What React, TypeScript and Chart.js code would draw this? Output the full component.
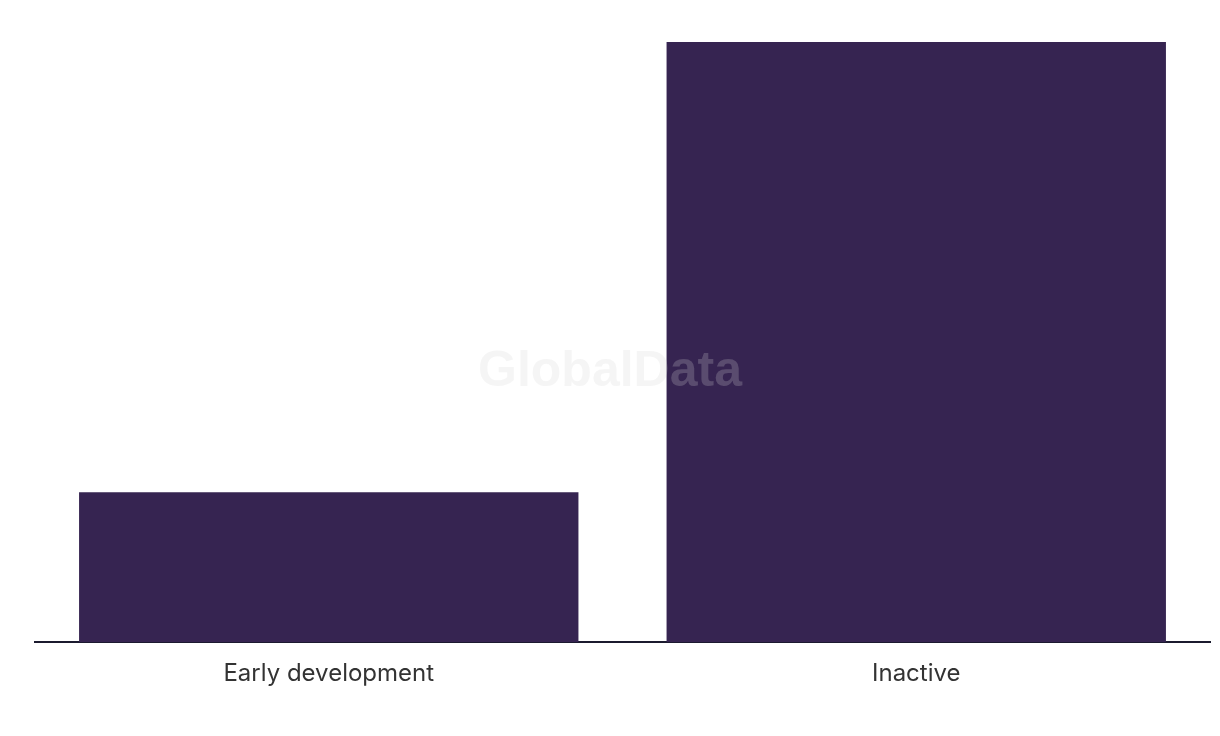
import React, { useEffect, useRef } from "react";
import { Chart, registerables } from "chart.js";

Chart.register(...registerables);

const categories = ["Early development", "Inactive"];
const values = [1, 4];

const watermarkPlugin = {
  id: "watermark",
  afterDatasetsDraw(chart: any) {
    const ctx = chart.ctx;
    ctx.save();
    ctx.font = "bold 50px 'Liberation Sans', Arial, sans-serif";
    ctx.fillStyle = "rgba(212,212,212,0.23)";
    ctx.textAlign = "center";
    ctx.textBaseline = "middle";
    ctx.fillText("GlobalData", 610, 372);
    ctx.restore();
  },
};

export default function App() {
  const ref = useRef<HTMLCanvasElement>(null);
  useEffect(() => {
    if (!ref.current) return;
    const chart = new Chart(ref.current, {
      type: "bar",
      data: {
        labels: categories,
        datasets: [
          {
            data: values,
            backgroundColor: "#362451",
            barPercentage: 0.85,
            categoryPercentage: 1,
          },
        ],
      },
      options: {
        responsive: false,
        animation: false,
        layout: { padding: { left: 35, right: 10, top: 42, bottom: 31 } },
        plugins: { legend: { display: false }, tooltip: { enabled: false } },
        scales: {
          x: {
            grid: { display: false, drawTicks: false },
            border: { display: true, color: "#1b1a2e", width: 2 },
            ticks: {
              padding: 17,
              color: "#333333",
              font: { family: "Inter, 'Noto Sans', sans-serif", size: 24 },
            },
          },
          y: {
            display: false,
            min: 0,
            max: 4,
          },
        },
      },
      plugins: [watermarkPlugin],
    });
    return () => chart.destroy();
  }, []);
  return (
    <div style={{ position: "fixed", left: 0, top: 0, width: 1220, height: 736, background: "#fff" }}>
      <canvas ref={ref} width={1220} height={736} />
    </div>
  );
}
